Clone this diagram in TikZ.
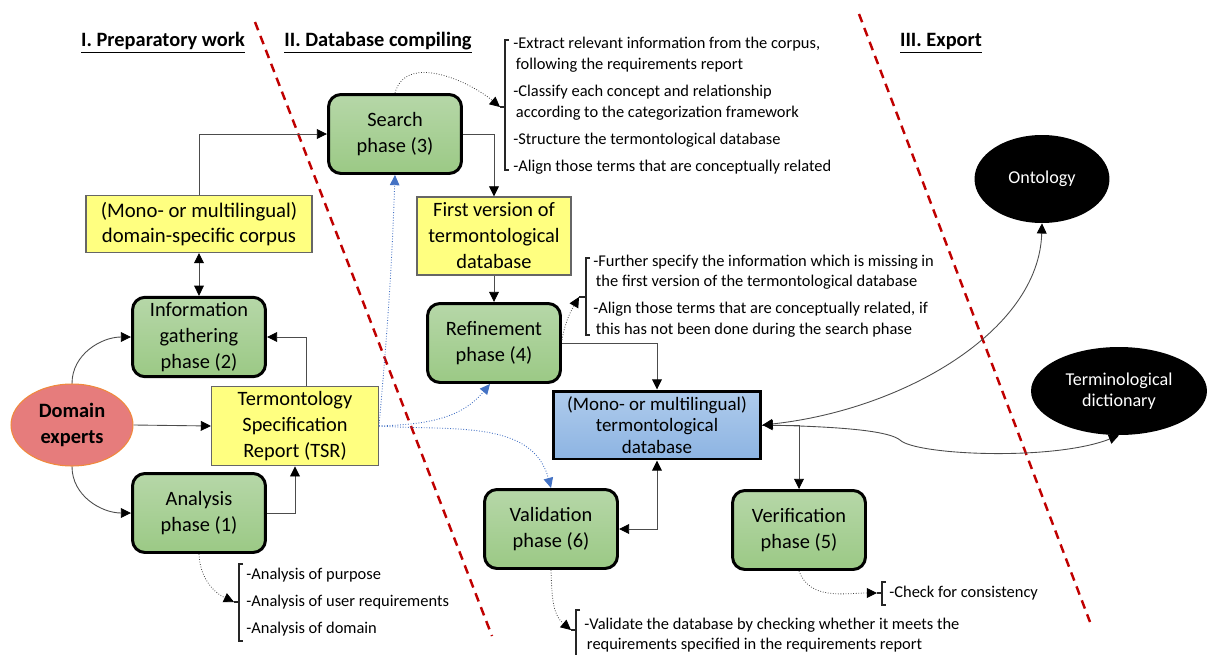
\documentclass[tikz,border=0pt]{standalone}
\usepackage{fontspec}
\setmainfont{Carlito}
\usetikzlibrary{arrows.meta}
\usetikzlibrary{shapes.geometric}
\usetikzlibrary{positioning}
\def\mybig{\fontsize{11.6}{14.8}\selectfont}
\def\mymid{\fontsize{10.8}{12.2}\selectfont}
\def\mysmall{\fontsize{9.35}{11.8}\selectfont}
\def\mygap{3.6pt}
\definecolor{phasetop}{HTML}{B6D7A8}
\definecolor{phasebot}{HTML}{9BC985}
\definecolor{dbtop}{HTML}{AFCBEC}
\definecolor{dbbot}{HTML}{8DB4E2}
\definecolor{note}{HTML}{FFFF80}
\definecolor{expert}{HTML}{E67C7C}
\definecolor{expertline}{HTML}{F08A3C}
\definecolor{divred}{HTML}{C00000}
\definecolor{flow}{HTML}{4472C4}
\tikzset{
>={Triangle[length=5.8pt,width=5.6pt,color=black]}, % All arrows with black triangle tip
line/.style={draw=black!70,line width=0.5pt},
heading/.style={font=\bfseries\mybig,inner sep=0pt},
divider/.style={draw=divred,line width=1.4pt,dash pattern=on 5pt off 3.5pt},
phase/.style={draw=black,line width=1.7pt,rounded corners=2.5mm,
  top color=phasetop,bottom color=phasebot,
  minimum width=2.66cm,minimum height=1.58cm,align=center,font=\mybig,inner sep=1mm},
product/.style={draw=black!60,line width=0.6pt,fill=note,align=center,font=\mybig,inner sep=1mm},
database/.style={draw=black,line width=1.7pt,top color=dbtop,bottom color=dbbot,
  minimum width=4.16cm,minimum height=1.36cm,align=center,font=\mymid,inner sep=1mm},
expert/.style={ellipse,draw=expertline,line width=0.6pt,fill=expert,
  minimum width=2.44cm,minimum height=1.64cm,align=center,font=\bfseries\mybig,inner sep=0pt},
export/.style={ellipse,fill=black,text=white,minimum height=1.76cm,
  align=center,font=\fontsize{10.3}{12.2}\selectfont,inner sep=0pt},
tasks/.style={align=left,font=\mysmall,inner sep=0pt,anchor=west},
brace/.style={draw=black!85,line width=0.6pt},
hint/.style={draw=black!75,line width=0.45pt,densely dotted,->},
feed/.style={draw=flow,line width=0.5pt,densely dotted,-{Triangle[length=5.8pt,width=5.4pt,color=flow]}}
}
\begin{document}
\begin{tikzpicture}[x=0.02cm,y=0.02cm]
\useasboundingbox (0,0) rectangle (1207,654);
\node[heading] (h1) at (163,611) {\underline{I. Preparatory work}};
\node[heading] (h2) at (378,611) {\underline{II. Database compiling}};
\node[heading] (h3) at (941,611) {\underline{III. Export}};
\draw[divider] (255,632) -- (492,18);
\draw[divider] (859,640) -- (1090,32);

\node[expert]  (experts) at (72,229)  {Domain\\experts};
\node[product, minimum width=4.52cm, minimum height=1.14cm, font=\fontsize{11.8}{14.4}\selectfont]
               (corpus) at (199,430)  {(Mono- or multilingual)\\domain-specific corpus};
\node[phase]   (info) at (199,317)    {Information\\gathering\\phase (2)};
\node[phase]   (analysis) at (199,141) {Analysis\\phase (1)};
\node[product, minimum width=3.34cm, minimum height=1.56cm]
               (tsr) at (295,228)     {Termontology\\Specification\\Report (TSR)};
\node[phase]   (search) at (395,520)  {Search\\phase (3)};
\node[product, minimum width=3.08cm, minimum height=1.56cm]
               (first) at (494,418)   {First version of\\termontological\\database};
\node[phase]   (refine) at (494,311)  {Refinement\\phase (4)};
\node[database] (db) at (657,229)     {(Mono- or multilingual)\\termontological\\database};
\node[phase]   (valid) at (551,125)   {Validation\\phase (6)};
\node[phase]   (verif) at (799,124)   {Verification\\phase (5)};
\node[export, minimum width=2.7cm]  (onto) at (1042,475) {Ontology};
\node[export, minimum width=3.52cm] (dict) at (1119,263) {Terminological\\dictionary};

\node[tasks] (searchtasks) at (513,548) {-Extract relevant information from the corpus,\\
  \hspace{1.5pt}following the requirements report\\[\mygap]
  -Classify each concept and relationship\\
  \hspace{1.5pt}according to the categorization framework\\[\mygap]
  -Structure the termontological database\\[\mygap]
  -Align those terms that are conceptually related};
\node[tasks] (refinetasks) at (593,358) {-Further specify the information which is missing in\\
  \hspace{1.5pt}the first version of the termontological database\\[\mygap]
  -Align those terms that are conceptually related, if\\
  \hspace{1.5pt}this has not been done during the search phase};
\node[tasks] (analysistasks) at (246,52) {-Analysis of purpose\\[\mygap]
  -Analysis of user requirements\\[\mygap]
  -Analysis of domain};
\node[tasks] (validtasks) at (584,19) {-Validate the database by checking whether it meets the\\
  \hspace{1.5pt}requirements specified in the requirements report};
\node[tasks] (veriftasks) at (889,61) {-Check for consistency};

\coordinate (sb) at (500,547);
\coordinate (rb) at (579,357);
\coordinate (ab) at (234,52);
\coordinate (vb) at (571,24);
\coordinate (cb) at (877,61);
\draw[brace] (509,614) -| (505,484) -- (509,484) (sb) -- (505,547);
\draw[brace] (590,396) -| (586,319) -- (590,319) (rb) -- (586,357);
\draw[brace] (243,90) -| (239,13) -- (243,13) (ab) -- (239,52);
\draw[brace] (580,44) -| (576,-10) (vb) -- (576,24);
\draw[brace] (886,72) -| (882,49) -- (886,49) (cb) -- (882,61);

\draw[hint] (search.north) to[out=75,in=140] (sb);
\draw[hint] ([yshift=0.06cm]refine.east) to[out=80,in=-120] (rb);
\draw[hint] (analysis.south) to[out=-88,in=155] (ab);
\draw[hint] (valid.south) to[out=-88,in=140] (vb);
\draw[hint] (verif.south) to[out=-70,in=180] (cb);

\draw[line,->] (corpus.north) |- (search.west);
\draw[line,<->] (corpus.south) -- (info.north);
\draw[line,->] (experts.north) to[out=90,in=180] (info.west);
\draw[line,->] (experts.south) to[out=-90,in=180] (analysis.west);
\draw[line,->] (experts.east) -- (tsr.west);
\draw[line,->] ([xshift=0.22cm]tsr.north) |- (info.east);
\draw[line,->] (analysis.east) -| (tsr.south);
\draw[line,->] (search.east) -| (first.north);
\draw[line,->] (first.south) -- (refine.north);
\draw[line,->] (refine.east) -| (db.north);
\draw[line,<->] (valid.east) -| (db.south);
\draw[line,->] (db.east) -| (verif.north);
\coordinate (kink) at (900,214);
\draw[line,<->] (db.east) .. controls +(140,15) and +(-3,-108) .. (onto.south);
\draw[line,<->] (db.east) .. controls +(90,-2) and +(-10,8) .. (kink)
  .. controls +(15,-15) and +(-66,-26) .. (dict.south);

\draw[feed] (tsr.east) to[out=85,in=-92] (search.south);
\draw[feed] (tsr.east) to[out=2,in=-130] ([xshift=-0.08cm]refine.south);
\draw[feed] (tsr.east) to[out=-4,in=105] (valid.north);
\end{tikzpicture}
\end{document}
